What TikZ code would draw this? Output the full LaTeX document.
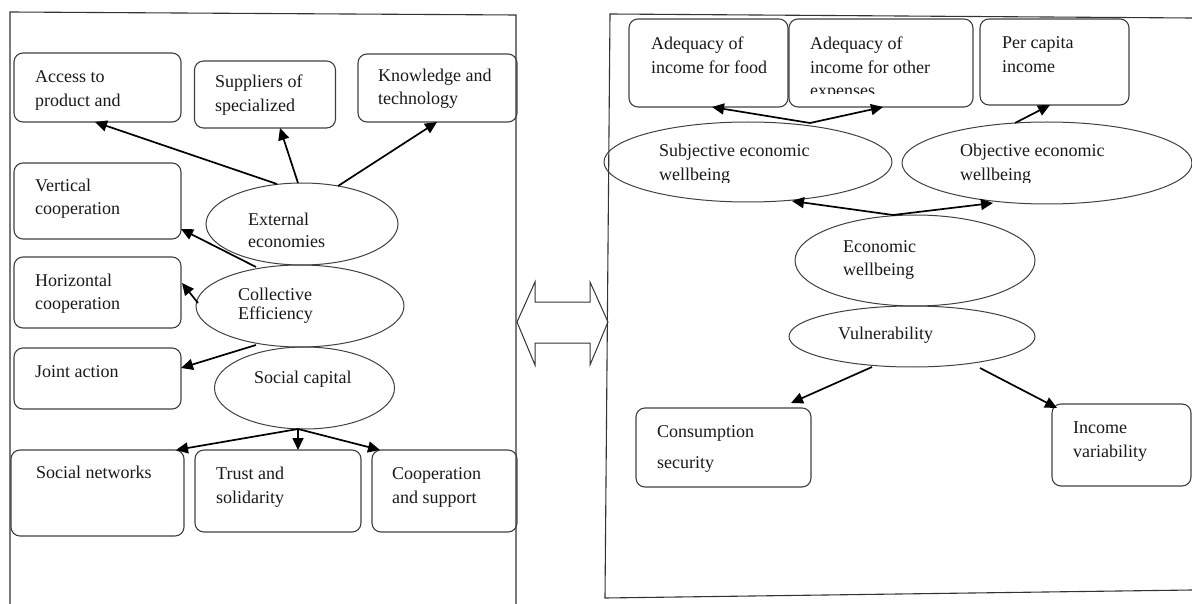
\documentclass[tikz,border=0pt]{standalone}
\usepackage{fontspec}
\setmainfont{Liberation Serif}
\usetikzlibrary{arrows.meta,shapes.geometric,calc}
\newcommand\twoline[3][24pt]{\vtop{\baselineskip=#1\relax\hbox{#2}\hbox{#3}}}
\begin{document}
\begin{tikzpicture}[x=1pt,y=-1pt,
  box/.style={draw=black!75, line width=1.1pt, rounded corners=9pt, rectangle, inner sep=0pt},
  oval/.style={draw=black!75, line width=1pt, ellipse, inner sep=0pt},
  txt/.style={anchor=base west, inner sep=0pt, font=\fontsize{18pt}{24pt}\selectfont, text=black!90},
  conn/.style={draw=black, line width=1.7pt, -{Triangle[length=12pt,width=11pt]}},
  frame/.style={draw=black!80, line width=1.1pt}
]
\useasboundingbox (0,0) rectangle (1192,604);
% frames
\draw[frame] (10,604) -- (10,12) -- (516,15) -- (516,604);
\draw[frame] (1192,18) -- (610,14) -- (605,598) -- (1192,590);
% double arrow
\draw[frame, line width=1pt] (517,322) -- (535,282) -- (535,302) -- (590,302) -- (590,282) -- (608,322) -- (590,365) -- (590,343) -- (535,343) -- (535,365) -- cycle;

% ---------- left panel ----------
\node[box, minimum width=167pt, minimum height=69pt] (acc) at (97.5,87.5) {};
\node[box, minimum width=141pt, minimum height=67pt] (sup) at (265,94.5) {};
\node[box, minimum width=159pt, minimum height=68pt] (kno) at (437.5,88) {};
\node[box, minimum width=167pt, minimum height=76pt] (ver) at (97.5,201) {};
\node[box, minimum width=167pt, minimum height=71pt] (hor) at (97.5,292.5) {};
\node[box, minimum width=167pt, minimum height=61pt] (joi) at (97.5,378.5) {};
\node[box, minimum width=173pt, minimum height=86pt] (soc) at (97.5,493) {};
\node[box, minimum width=166pt, minimum height=82pt] (tru) at (278,491) {};
\node[box, minimum width=145pt, minimum height=82pt] (coo) at (444.5,491) {};
\node[oval, minimum width=192pt, minimum height=82pt] (ext) at (302,224) {};
\node[oval, minimum width=208pt, minimum height=82pt] (col) at (300,306) {};
\node[oval, minimum width=180pt, minimum height=82pt] (sca) at (304.5,388) {};

\node[txt] (tacc) at (35,83) {\twoline{Access to}{product and}};
\node[txt] (tsup) at (215,88) {\twoline{Suppliers of}{specialized}};
\begin{scope}
\clip (350,50) rectangle (520,108);
\node[txt] (tkno) at (378,82) {\twoline[23pt]{Knowledge and}{technology}};
\end{scope}
\node[txt] (tver) at (35,192) {\twoline[23pt]{Vertical}{cooperation}};
\node[txt] (thor) at (35,287) {\twoline[23pt]{Horizontal}{cooperation}};
\node[txt] (tjoi) at (35,377) {Joint action};
\node[txt] (tExt) at (248,226) {\twoline[21pt]{External}{economies}};
\node[txt] (tcol) at (238,301) {\twoline[19pt]{Collective}{Efficiency}};
\node[txt] (tsca) at (254,383) {Social capital};
\node[txt] (tsoc) at (36,478) {Social networks};
\node[txt] (ttru) at (216,479) {\twoline{Trust and}{solidarity}};
\node[txt] (tcoo) at (392,479) {\twoline{Cooperation}{and support}};

\draw[conn] ($(ext)+(-25,-40)$) -- ($(acc)+(-2.5,34.5)$);
\draw[conn] ($(ext)+(-4,-41)$) -- ($(sup)+(15,33.5)$);
\draw[conn] ($(ext)+(36,-38)$) -- ($(kno)+(-0.5,34)$);
\draw[conn] ($(col)+(-44,-39)$) -- ($(ver)+(83.5,28)$);
\draw[conn] ($(col)+(-102,-3)$) -- ($(hor)+(84.5,-9.5)$);
\draw[conn] ($(col)+(-44,39)$) -- ($(joi)+(83.5,-10.5)$);
\draw[conn] ($(sca)+(-6.5,41)$) -- ($(soc)+(78.5,-43)$);
\draw[conn] ($(sca)+(-6.5,41)$) -- ($(tru)+(20,-41)$);
\draw[conn] ($(sca)+(-6.5,41)$) -- ($(coo)+(-64.5,-41)$);

% ---------- right panel ----------
\node[box, minimum width=159pt, minimum height=88pt] (a1) at (708.5,63) {};
\node[box, minimum width=184pt, minimum height=88pt] (a2) at (881,63) {};
\node[box, minimum width=149pt, minimum height=86pt] (pci) at (1054.5,62) {};
\node[oval, minimum width=288pt, minimum height=80pt] (sub) at (748,162) {};
\node[oval, minimum width=290pt, minimum height=82pt] (obj) at (1047,163) {};
\node[oval, minimum width=240pt, minimum height=91pt] (eco) at (915,260.5) {};
\node[oval, minimum width=246pt, minimum height=61pt] (vul) at (912,336.5) {};
\node[box, minimum width=175pt, minimum height=79pt] (con) at (723.5,447.5) {};
\node[box, minimum width=139pt, minimum height=82pt] (inc) at (1121.5,445) {};

\node[txt] (ta1) at (651,50) {\twoline[23.5pt]{Adequacy of}{income for food}};
\begin{scope}
\clip (795,25) rectangle (970,94);
\node[txt] (ta2) at (810,50) {\vtop{\baselineskip=23.5pt\hbox{Adequacy of}\hbox{income for other}\hbox{expenses}}};
\end{scope}
\node[txt] (tpci) at (1002,49) {\twoline{Per capita}{income}};
\begin{scope}
\clip (600,130) rectangle (1192,183);
\node[txt] (tsub) at (659,157) {\twoline{Subjective economic}{wellbeing}};
\node[txt] (tobj) at (960,157) {\twoline{Objective economic}{wellbeing}};
\end{scope}
\node[txt] (teco) at (843,253) {\twoline[23pt]{Economic}{wellbeing}};
\node[txt] (tvul) at (838,339) {Vulnerability};
\node[txt] (tcon) at (657,437) {\twoline[31pt]{Consumption}{security}};
\node[txt] (tinc) at (1073,433) {\twoline{Income}{variability}};

\draw[conn] ($(sub)+(62,-39)$) -- ($(a1)+(3.5,44)$);
\draw[conn] ($(sub)+(62,-39)$) -- ($(a2)+(2,44)$);
\draw[conn] ($(obj)+(-32,-40)$) -- ($(pci)+(-4.5,43)$);
\draw[conn] ($(eco)+(-22,-45.5)$) -- ($(sub)+(44,39)$);
\draw[conn] ($(eco)+(-22,-45.5)$) -- ($(obj)+(-54,40)$);
\draw[conn] ($(vul)+(-40,30.5)$) -- ($(con)+(67.5,-44.5)$);
\draw[conn] ($(vul)+(68,31.5)$) -- ($(inc)+(-64.5,-37)$);
\end{tikzpicture}
\end{document}
